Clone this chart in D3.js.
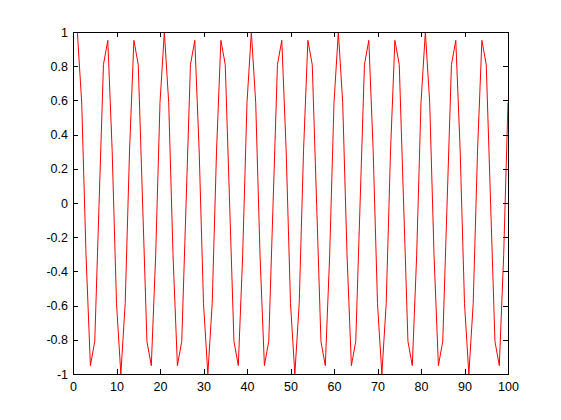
<!DOCTYPE html>
<html>
<head>
<meta charset="UTF-8">
<title>Line plot</title>
<script src="https://d3js.org/d3.v7.min.js"></script>
<style>
  html, body { margin: 0; padding: 0; background: #fff; }
  svg { display: block; }
  .tick text { font-family: "Liberation Sans", Arial, sans-serif; font-size: 12.5px; fill: #000; }
</style>
</head>
<body>
<svg id="chart"></svg>
<script>
// samples, plotted against index 1..100
const yValues = [
  1, 0.588, -0.309, -0.951, -0.809, 0, 0.809, 0.951, 0.309, -0.588,
  -1, -0.588, 0.309, 0.951, 0.809, 0, -0.809, -0.951, -0.309, 0.588,
  1, 0.588, -0.309, -0.951, -0.809, 0, 0.809, 0.951, 0.309, -0.588,
  -1, -0.588, 0.309, 0.951, 0.809, 0, -0.809, -0.951, -0.309, 0.588,
  1, 0.588, -0.309, -0.951, -0.809, 0, 0.809, 0.951, 0.309, -0.588,
  -1, -0.588, 0.309, 0.951, 0.809, 0, -0.809, -0.951, -0.309, 0.588,
  1, 0.588, -0.309, -0.951, -0.809, 0, 0.809, 0.951, 0.309, -0.588,
  -1, -0.588, 0.309, 0.951, 0.809, 0, -0.809, -0.951, -0.309, 0.588,
  1, 0.588, -0.309, -0.951, -0.809, 0, 0.809, 0.951, 0.309, -0.588,
  -1, -0.588, 0.309, 0.951, 0.809, 0, -0.809, -0.951, -0.309, 0.588
];
const xTicks = [0, 10, 20, 30, 40, 50, 60, 70, 80, 90, 100];
const yTicks = [-1, -0.8, -0.6, -0.4, -0.2, 0, 0.2, 0.4, 0.6, 0.8, 1];

const W = 561, H = 420;
const mLeft = 73, mRight = 508, mTop = 32, mBottom = 374;

const svg = d3.select("#chart").attr("width", W).attr("height", H);

const x = d3.scaleLinear().domain([0, 100]).range([mLeft, mRight]);
const y = d3.scaleLinear().domain([-1, 1]).range([mBottom, mTop]);

// clip so the line stays inside the box
svg.append("clipPath").attr("id", "plot-clip")
  .append("rect").attr("x", mLeft).attr("y", mTop)
  .attr("width", mRight - mLeft).attr("height", mBottom - mTop);

const line = d3.line()
  .x((d, i) => x(i + 1))
  .y(d => y(d));

svg.append("path")
  .datum(yValues)
  .attr("clip-path", "url(#plot-clip)")
  .attr("fill", "none")
  .attr("stroke", "#ff0000")
  .attr("stroke-width", 1)
  .attr("d", line);

// plain hyphen for negatives, like the original
const fmt = d => String(+d.toFixed(1));
const tickLen = 5;

function styleAxis(g) {
  g.select(".domain").remove();
  g.selectAll(".tick line").attr("stroke", "#000").attr("shape-rendering", "crispEdges");
}

// bottom + top
svg.append("g").attr("transform", `translate(0,${mBottom})`)
  .call(d3.axisBottom(x).tickValues(xTicks).tickSize(-tickLen).tickPadding(8).tickFormat(fmt))
  .call(styleAxis);
svg.append("g").attr("transform", `translate(0,${mTop})`)
  .call(d3.axisTop(x).tickValues(xTicks).tickSize(-tickLen).tickFormat(""))
  .call(styleAxis);

// left + right
svg.append("g").attr("transform", `translate(${mLeft},0)`)
  .call(d3.axisLeft(y).tickValues(yTicks).tickSize(-tickLen).tickPadding(5).tickFormat(fmt))
  .call(styleAxis);
svg.append("g").attr("transform", `translate(${mRight},0)`)
  .call(d3.axisRight(y).tickValues(yTicks).tickSize(-tickLen).tickFormat(""))
  .call(styleAxis);

// axes box
svg.append("rect")
  .attr("x", mLeft + 0.5).attr("y", mTop + 0.5)
  .attr("width", mRight - mLeft).attr("height", mBottom - mTop)
  .attr("fill", "none").attr("stroke", "#000").attr("stroke-width", 1);
</script>
</body>
</html>
